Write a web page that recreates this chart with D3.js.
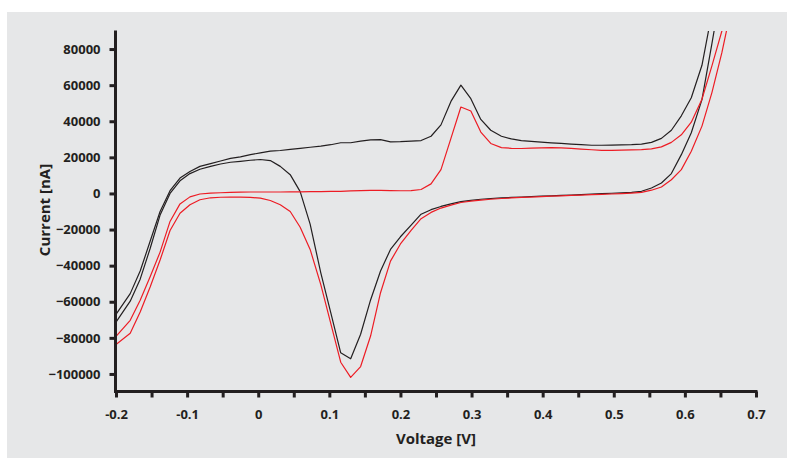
<!DOCTYPE html>
<html>
<head>
<meta charset="utf-8">
<script src="https://cdn.jsdelivr.net/npm/d3@7"></script>
<style>
  html, body { margin: 0; padding: 0; background: #ffffff; }
  svg { display: block; }
  text { font-family: "Open Sans", "DejaVu Sans", sans-serif; font-weight: 700; fill: #231f20; }
</style>
</head>
<body>
<div id="chart"></div>
<script>
// ---- data (voltage in V, current in nA / 1000) ----
const voltage = [-0.200, -0.180, -0.166, -0.152, -0.138, -0.124, -0.110, -0.096, -0.082, -0.067, -0.053,
  -0.039, -0.025, -0.011, 0.003, 0.017, 0.031, 0.045, 0.059, 0.073, 0.088,
  0.102, 0.116, 0.130, 0.144, 0.158, 0.172, 0.186, 0.200, 0.215, 0.229,
  0.243, 0.257, 0.271, 0.285, 0.299, 0.313, 0.327, 0.342, 0.356, 0.370,
  0.384, 0.398, 0.412, 0.426, 0.440, 0.454, 0.469, 0.483, 0.497, 0.511,
  0.525, 0.539, 0.553, 0.567, 0.581, 0.595, 0.609, 0.624, 0.638, 0.652, 0.666];

// black cycle, forward (anodic) branch
const blackForward = [-67, -55.5, -43, -26.5, -10, 1.5, 8.5, 12.2, 15, 16.5, 18,
  19.4, 20.3, 21.5, 22.5, 23.4, 23.8, 24.4, 25, 25.6, 26.2,
  27, 28.1, 28.1, 29, 29.7, 29.8, 28.6, 28.7, 29, 29.3,
  31.7, 38, 51, 60, 52.5, 41, 35, 31.7, 30.2, 29.3,
  28.8, 28.4, 28, 27.7, 27.3, 27, 26.7, 26.7, 26.8, 26.9,
  27, 27.3, 28.3, 30.5, 35, 43, 53, 71, 100];
// black cycle, reverse (cathodic) branch
const blackReverse = [-71.3, -59.7, -47.5, -30.5, -12, 0, 7, 11, 13.4, 15, 16.3,
  17.3, 17.8, 18.4, 18.8, 18.2, 15, 10.4, 1, -17, -44,
  -66, -88.3, -91.6, -78, -59, -43, -31, -24, -17.5, -11.5,
  -9, -7.2, -5.8, -4.5, -3.8, -3.2, -2.8, -2.5, -2.2, -2,
  -1.7, -1.5, -1.3, -1.1, -0.9, -0.6, -0.3, -0.1, 0.1, 0.3,
  0.6, 1.2, 3, 5.8, 11, 21.5, 33.6, 52, 83, 115];
// red cycle, forward branch
const redForward = [-79.2, -70.3, -59.2, -46.2, -32.5, -15.5, -5.8, -1.9, -0.3, 0.2, 0.4,
  0.6, 0.7, 0.8, 0.8, 0.8, 0.8, 0.9, 0.9, 1, 1,
  1.1, 1.2, 1.4, 1.6, 1.7, 1.7, 1.6, 1.5, 1.6, 2.2,
  5.3, 13.2, 30.5, 47.9, 45.7, 34, 27.7, 25.4, 25, 24.9,
  25.1, 25.3, 25.4, 25.3, 25, 24.6, 24.2, 23.9, 23.9, 24,
  24.1, 24.3, 24.7, 25.8, 28.3, 32.5, 39.5, 52.2, 70.7, 90, 112];
// red cycle, reverse branch
const redReverse = [-83.7, -77.4, -65.7, -51.8, -36.9, -20.5, -11, -6.3, -3.5, -2.4, -2.1,
  -2, -2, -2.2, -2.6, -3.9, -6.3, -10, -18.7, -31, -50.5,
  -72, -93.5, -101.9, -95.9, -79, -55, -37.5, -28, -20.5, -14,
  -10.5, -8.1, -6.5, -5, -4.3, -3.7, -3.2, -2.8, -2.5, -2.2,
  -2, -1.8, -1.5, -1.3, -1.1, -0.9, -0.7, -0.5, -0.3, -0.1,
  0.2, 0.6, 1.8, 3.6, 7.6, 13.2, 23.4, 37.3, 55.9, 78, 104];

const seriesColors = ["#231f20", "#231f20", "#ed1c24", "#ed1c24"];
const xTicks = [-0.2, -0.15, -0.1, -0.05, 0, 0.05, 0.1, 0.15, 0.2, 0.25, 0.3, 0.35, 0.4, 0.45, 0.5, 0.55, 0.6, 0.65, 0.7];
const xTickLabels = ["-0.2", "", "-0.1", "", "0", "", "0.1", "", "0.2", "", "0.3", "", "0.4", "", "0.5", "", "0.6", "", "0.7"];
const yTicks = [-100000, -80000, -60000, -40000, -20000, 0, 20000, 40000, 60000, 80000];
const xTitle = "Voltage [V]";
const yTitle = "Current [nA]";

// ---- layout ----
const W = 787, H = 458;
const svg = d3.select("#chart").append("svg").attr("width", W).attr("height", H);
svg.append("rect").attr("x", 7).attr("y", 12).attr("width", W - 7).attr("height", 446).attr("fill", "#e6e7e8");

const x = d3.scaleLinear().domain([-0.2, 0.7]).range([116, 756]);
const y = d3.scaleLinear().domain([-110000, 90000]).range([392, 31]);

svg.append("defs").append("clipPath").attr("id", "plot")
  .append("rect").attr("x", 116).attr("y", 31).attr("width", 645).attr("height", 361);

const series = [blackForward, blackReverse, redForward, redReverse];
const line = d3.line().x(d => x(d[0])).y(d => y(d[1] * 1000));
const g = svg.append("g").attr("clip-path", "url(#plot)");
series.forEach((vals, i) => {
  const pts = vals.map((c, j) => [voltage[j], c]);
  g.append("path").attr("d", line(pts)).attr("fill", "none")
    .attr("stroke", seriesColors[i]).attr("stroke-width", 1.2).attr("stroke-linejoin", "round");
});

// axes
const xAxis = d3.axisBottom(x).tickValues(xTicks).tickSize(6).tickPadding(12)
  .tickFormat((d, i) => xTickLabels[i]);
const gx = svg.append("g").attr("transform", "translate(0,391.5)").call(xAxis);
gx.select(".domain").attr("d", "M114.5,0H757.5").attr("stroke", "#231f20").attr("stroke-width", 3);
gx.selectAll(".tick line").attr("stroke", "#231f20").attr("stroke-width", 3);
gx.selectAll(".tick text").attr("font-size", 13).attr("font-family", null).attr("fill", "#231f20");

const yAxis = d3.axisLeft(y).tickValues(yTicks).tickSize(6).tickPadding(9).tickFormat(d3.format("d"));
const gy = svg.append("g").attr("transform", "translate(115.5,0)").call(yAxis);
gy.select(".domain").attr("d", "M0,30.5V393").attr("stroke", "#231f20").attr("stroke-width", 3);
gy.selectAll(".tick line").attr("stroke", "#231f20").attr("stroke-width", 3);
gy.selectAll(".tick text").attr("font-size", 13).attr("font-family", null).attr("fill", "#231f20");

svg.append("text").attr("x", 436).attr("y", 444).attr("text-anchor", "middle")
  .attr("font-size", 15).text(xTitle);
svg.append("text").attr("transform", "translate(50,210) rotate(-90)").attr("text-anchor", "middle")
  .attr("font-size", 15).text(yTitle);
</script>
</body>
</html>
